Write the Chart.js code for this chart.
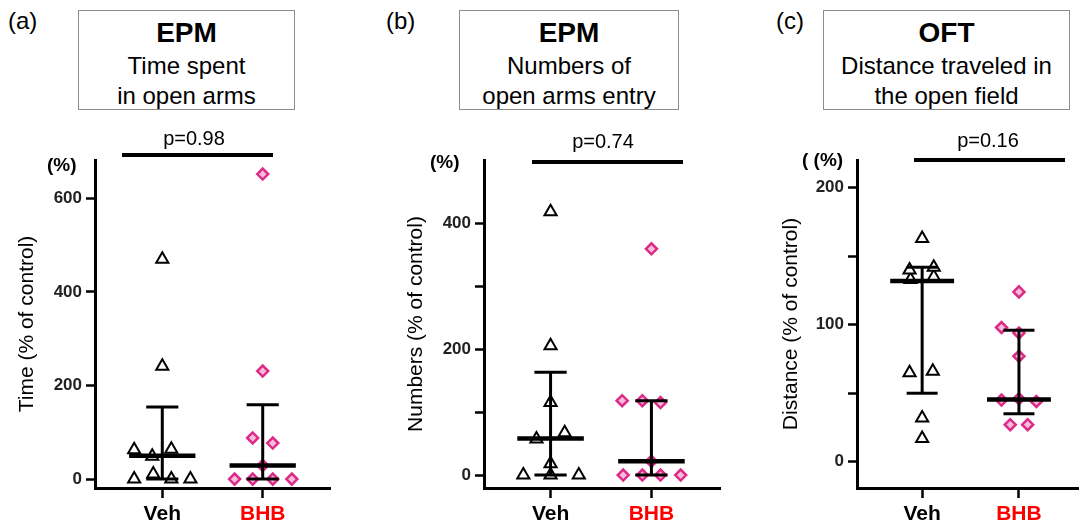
<!DOCTYPE html>
<html><head><meta charset="utf-8">
<script src="https://cdn.jsdelivr.net/npm/chart.js@4.4.1/dist/chart.umd.min.js"></script>
<style>
body{margin:0;width:1087px;height:526px;background:#fff;position:relative;overflow:hidden;font-family:"Liberation Sans",Arial,sans-serif;color:#000;}
.abs{position:absolute;white-space:nowrap;}
.box{position:absolute;border:1px solid #8c8c8c;box-sizing:border-box;text-align:center;top:10px;height:100px;padding-top:4px;}
.box .h{font-weight:bold;font-size:28px;line-height:36px;}
.box .s{font-size:24px;line-height:30px;}
.plab{font-size:24px;line-height:24px;top:9px;}
.pct{font-weight:bold;font-size:19px;line-height:20px;}
.ptxt{font-size:20px;line-height:20px;text-align:center;width:120px;}
.pbar{position:absolute;height:4px;background:#000;}
canvas{position:absolute;}
</style></head>
<body>
<div class="abs plab" style="left:8px;">(a)</div>
<div class="abs plab" style="left:386px;">(b)</div>
<div class="abs plab" style="left:776px;">(c)</div>

<div class="box" style="left:78px;width:217px;"><div class="h">EPM</div><div class="s">Time spent</div><div class="s">in open arms</div></div>
<div class="box" style="left:459px;width:220px;"><div class="h">EPM</div><div class="s">Numbers of</div><div class="s">open arms entry</div></div>
<div class="box" style="left:823px;width:247px;"><div class="h">OFT</div><div class="s">Distance traveled in</div><div class="s">the open field</div></div>

<canvas id="ca" width="340" height="406" style="left:0;top:120px;"></canvas>
<canvas id="cb" width="350" height="406" style="left:380px;top:120px;"></canvas>
<canvas id="cc" width="327" height="406" style="left:760px;top:120px;"></canvas>

<div class="abs pct" style="left:47px;top:155px;">(%)</div>
<div class="abs pct" style="left:430px;top:152px;">(%)</div>
<div class="abs pct" style="left:802px;top:150px;">( (%)</div>

<div class="abs ptxt" style="left:134px;top:128px;">p=0.98</div>
<div class="pbar" style="left:122px;width:151px;top:153px;"></div>
<div class="abs ptxt" style="left:543px;top:131px;">p=0.74</div>
<div class="pbar" style="left:532px;width:151px;top:160px;"></div>
<div class="abs ptxt" style="left:928px;top:130px;">p=0.16</div>
<div class="pbar" style="left:914px;width:151px;top:158px;"></div>

<script>
// ---- data ----
const categories = ['Veh', 'BHB'];

// (a) EPM time spent in open arms (% of control)
const timeTicks = [0, 200, 400, 600];
const timeTickLabels = [0, 200, 400, 600];
const timeVeh = [0, 0, 0, 11, 49, 63, 64, 241, 470];
const timeVehJitter = [-0.28, 0.09, 0.28, -0.09, -0.1, -0.28, 0.09, 0, 0];
const timeBhb = [0, 0, 0, 0, 29, 77, 88, 231, 652];
const timeBhbJitter = [-0.28, -0.1, 0.1, 0.29, 0, 0.1, -0.1, 0, 0];
const timeVehSummary = [0, 50, 154];   // low, median, high
const timeBhbSummary = [0, 29, 159];

// (b) EPM numbers of open arms entry (% of control)
const entryTicks = [0, 100, 200, 300, 400];
const entryTickLabels = [0, 200, 400];
const entryVeh = [0, 0, 0, 18, 57, 67, 115, 205, 418];
const entryVehJitter = [-0.27, 0, 0.28, 0, -0.14, 0.14, 0, 0, 0];
const entryBhb = [0, 0, 0, 0, 22, 115, 118, 118, 359];
const entryBhbJitter = [-0.28, -0.09, 0.09, 0.29, 0, 0.09, -0.29, -0.09, 0];
const entryVehSummary = [0, 58, 163];
const entryBhbSummary = [0, 22, 118];

// (c) OFT distance traveled (% of control)
const distTicks = [0, 50, 100, 150, 200];
const distTickLabels = [0, 100, 200];
const distVeh = [17, 32, 65, 66, 133, 135, 140, 142, 163];
const distVehJitter = [0, 0, -0.13, 0.11, -0.12, 0.12, -0.13, 0.12, 0];
const distBhb = [27, 27, 45, 46, 44, 77, 94, 98, 124];
const distBhbJitter = [-0.09, 0.09, -0.18, 0, 0.18, 0, 0, -0.18, 0];
const distVehSummary = [50, 132, 142];
const distBhbSummary = [35, 45.5, 96];

// ---- drawing ----
const FAM = '"Liberation Sans", Arial, sans-serif';

function panel(id, o) {
  const datasets = [];
  function seg(x0, y0, x1, y1, w) {
    datasets.push({type: 'line', data: [{x: x0, y: y0}, {x: x1, y: y1}],
      borderColor: '#000', borderWidth: w, pointRadius: 0, borderCapStyle: 'butt',
      fill: false, order: 0, clip: false});
  }
  [[1, o.vehSum], [2, o.bhbSum]].forEach(([c, s]) => {
    seg(c, s[0], c, s[2], 3);
    seg(c - 0.16, s[0], c + 0.16, s[0], 3);
    seg(c - 0.16, s[2], c + 0.16, s[2], 3);
    seg(c - 0.33, s[1], c + 0.33, s[1], 4.5);
  });
  datasets.push({type: 'scatter', data: o.veh.map((v, i) => ({x: 1 + o.vehJ[i], y: v})),
    pointStyle: 'triangle', pointRadius: 7, pointBorderWidth: 2,
    borderColor: '#000', backgroundColor: '#fff', order: 1, clip: false});
  datasets.push({type: 'scatter', data: o.bhb.map((v, i) => ({x: 2 + o.bhbJ[i], y: v})),
    pointStyle: 'rectRot', pointRadius: 5.5, pointBorderWidth: 2.5,
    borderColor: '#dc2a88', backgroundColor: '#f6bcd8', order: 1, clip: false});

  new Chart(document.getElementById(id), {
    type: 'scatter',
    data: {datasets},
    options: {
      responsive: false, animation: false, devicePixelRatio: 1,
      layout: {padding: {top: 40, right: o.padRight, bottom: 0, left: 0}},
      plugins: {legend: {display: false}, tooltip: {enabled: false}},
      scales: {
        x: {
          type: 'linear', min: o.xMin, max: o.xMax,
          afterFit(s) { s.height = 38; },
          afterBuildTicks(s) { s.ticks = categories.map((c, i) => ({value: i + 1})); },
          ticks: {
            callback: v => categories[Math.round(v) - 1],
            color: c => (c.tick && c.tick.value === 2) ? '#ff0000' : '#000',
            font: {family: FAM, size: 21, weight: 'bold'},
            padding: 4, maxRotation: 0, autoSkip: false
          },
          grid: {display: true, drawOnChartArea: false, drawTicks: true, tickLength: 10, tickWidth: 2.5, tickColor: '#000'},
          border: {display: true, color: '#000', width: 3}
        },
        y: {
          type: 'linear', min: o.yMin, max: o.yMax,
          afterFit(s) { s.width = o.yw; },
          afterBuildTicks(s) { s.ticks = o.yTicks.map(v => ({value: v})); },
          ticks: {
            callback: v => o.yLabels.includes(v) ? String(v) : '',
            color: '#222', font: {family: FAM, size: 17, weight: 'bold'}, padding: 4
          },
          grid: {display: true, drawOnChartArea: false, drawTicks: true, tickLength: 9, tickWidth: 2.5, tickColor: '#000'},
          border: {display: true, color: '#000', width: 3},
          title: {display: true, text: o.yTitle, color: '#000', font: {family: FAM, size: 21},
            padding: {top: o.titlePad, bottom: 0}}
        }
      }
    }
  });
}

panel('ca', {veh: timeVeh, vehJ: timeVehJitter, bhb: timeBhb, bhbJ: timeBhbJitter,
  vehSum: timeVehSummary, bhbSum: timeBhbSummary, yTicks: timeTicks, yLabels: timeTickLabels,
  yMin: -19, yMax: 682, xMin: 0.33, xMax: 2.67, yw: 95, padRight: 10, titlePad: 15,
  yTitle: 'Time (% of control)'});
panel('cb', {veh: entryVeh, vehJ: entryVehJitter, bhb: entryBhb, bhbJ: entryBhbJitter,
  vehSum: entryVehSummary, bhbSum: entryBhbSummary, yTicks: entryTicks, yLabels: entryTickLabels,
  yMin: -20.6, yMax: 500, xMin: 0.34, xMax: 2.68, yw: 104, padRight: 10, titlePad: 24,
  yTitle: 'Numbers (% of control)'});
panel('cc', {veh: distVeh, vehJ: distVehJitter, bhb: distBhb, bhbJ: distBhbJitter,
  vehSum: distVehSummary, bhbSum: distBhbSummary, yTicks: distTicks, yLabels: distTickLabels,
  yMin: -19.2, yMax: 220.3, xMin: 0.327, xMax: 2.61, yw: 97, padRight: 2, titlePad: 19,
  yTitle: 'Distance (% of control)'});
</script>
</body></html>
